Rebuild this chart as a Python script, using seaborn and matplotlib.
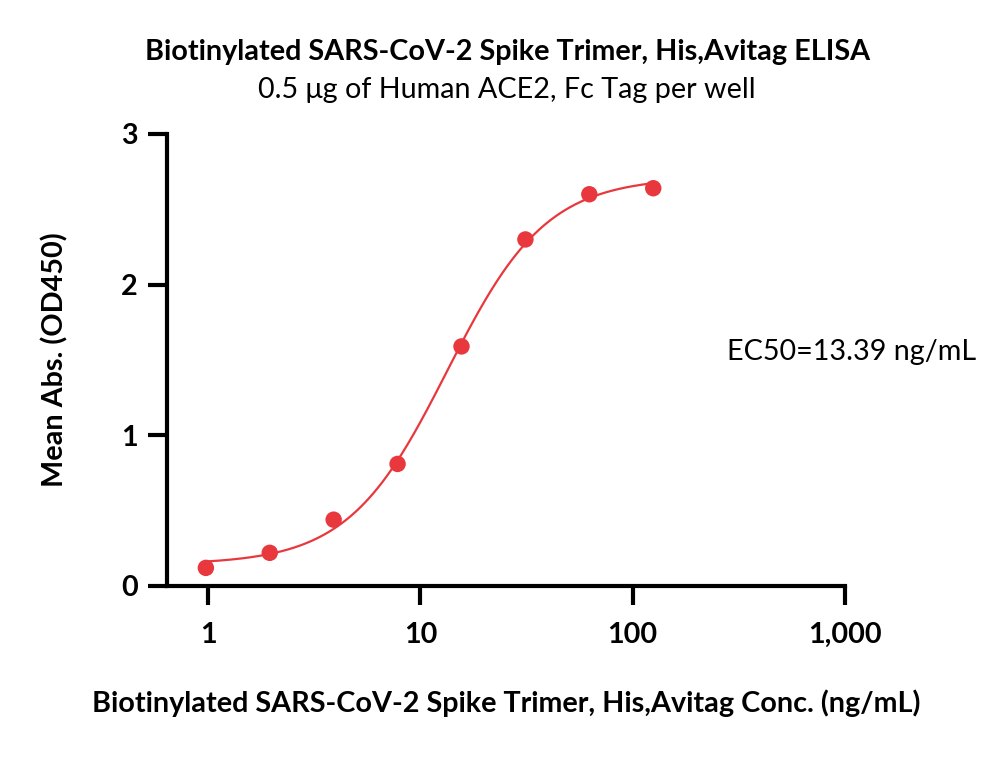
import numpy as np
import pandas as pd
import matplotlib
matplotlib.use("Agg")
import matplotlib.pyplot as plt
import seaborn as sns
from matplotlib.ticker import FixedLocator, FixedFormatter, NullLocator

# ---- data ----
conc = [0.977, 1.953, 3.906, 7.8125, 15.625, 31.25, 62.5, 125.0]
od450 = [0.12, 0.22, 0.44, 0.81, 1.59, 2.30, 2.60, 2.64]
ec50 = 13.39
x_ticks = [1, 10, 100, 1000]
x_tick_labels = ["1", "10", "100", "1,000"]
y_ticks = [0, 1, 2, 3]
y_tick_labels = ["0", "1", "2", "3"]

title = "Biotinylated SARS-CoV-2 Spike Trimer, His,Avitag ELISA"
subtitle = "0.5 μg of Human ACE2, Fc Tag per well"
xlabel = "Biotinylated SARS-CoV-2 Spike Trimer, His,Avitag Conc. (ng/mL)"
ylabel = "Mean Abs. (OD450)"
ec50_text = "EC50=13.39 ng/mL"

df = pd.DataFrame({"conc": conc, "od": od450})

# 4PL fit with fixed EC50: grid over hill slope, linear LSQ for bottom/top
x = np.array(conc)
y = np.array(od450)
best = None
for h in np.linspace(0.5, 3.0, 251):
    f = (x / ec50) ** h / (1 + (x / ec50) ** h)
    A = np.vstack([1 - f, f]).T
    coef, res, *_ = np.linalg.lstsq(A, y, rcond=None)
    err = np.sum((A @ coef - y) ** 2)
    if best is None or err < best[0]:
        best = (err, h, coef)
_, hill, (bottom, top) = best
xs = np.logspace(np.log10(conc[0]), np.log10(conc[-1]), 300)
fs = (xs / ec50) ** hill / (1 + (xs / ec50) ** hill)
curve = pd.DataFrame({"conc": xs, "od": bottom + (top - bottom) * fs})

sns.set_theme(style="white")
plt.rcParams["font.family"] = ["Lato", "DejaVu Sans"]
plt.rcParams["text.color"] = "black"
plt.rcParams["axes.labelcolor"] = "black"
plt.rcParams["xtick.color"] = "black"
plt.rcParams["ytick.color"] = "black"

red = "#E8383D"
fs_main = 20.7
fig = plt.figure(figsize=(10, 7.79), dpi=100)
ax = fig.add_axes([0.167, 0.2478, 0.678, 0.5802])

sns.lineplot(data=curve, x="conc", y="od", ax=ax, color=red, linewidth=1.6)
sns.scatterplot(data=df, x="conc", y="od", ax=ax, color=red, s=140,
                edgecolor="none", zorder=3)

ax.set_xscale("log")
ax.set_xlim(0.641, 1000)
ax.set_ylim(0, 3)
ax.xaxis.set_major_locator(FixedLocator(x_ticks))
ax.xaxis.set_major_formatter(FixedFormatter(x_tick_labels))
ax.xaxis.set_minor_locator(NullLocator())
ax.yaxis.set_major_locator(FixedLocator(y_ticks))
ax.yaxis.set_major_formatter(FixedFormatter(y_tick_labels))

for s in ["top", "right"]:
    ax.spines[s].set_visible(False)
for s in ["left", "bottom"]:
    ax.spines[s].set_linewidth(3)
    ax.spines[s].set_color("black")

ax.tick_params(axis="both", which="major", length=14, width=3, color="black",
               labelsize=fs_main, pad=7, direction="out", bottom=True, left=True,
               labelcolor="black")
ax.tick_params(axis="x", pad=12)
for lab in ax.get_xticklabels() + ax.get_yticklabels():
    lab.set_fontweight("bold")

ax.set_xlabel(xlabel, fontsize=fs_main, fontweight="bold", labelpad=30)
ax.set_ylabel(ylabel, fontsize=fs_main, fontweight="bold", labelpad=38)
ax.grid(False)

fig.text(0.508, 0.933, title, ha="center", va="center", fontsize=fs_main,
         fontweight="bold")
fig.text(0.507, 0.884, subtitle, ha="center", va="center", fontsize=fs_main)
fig.text(0.727, 0.548, ec50_text, ha="left", va="center", fontsize=fs_main)

fig.savefig("out.png", dpi=100)
